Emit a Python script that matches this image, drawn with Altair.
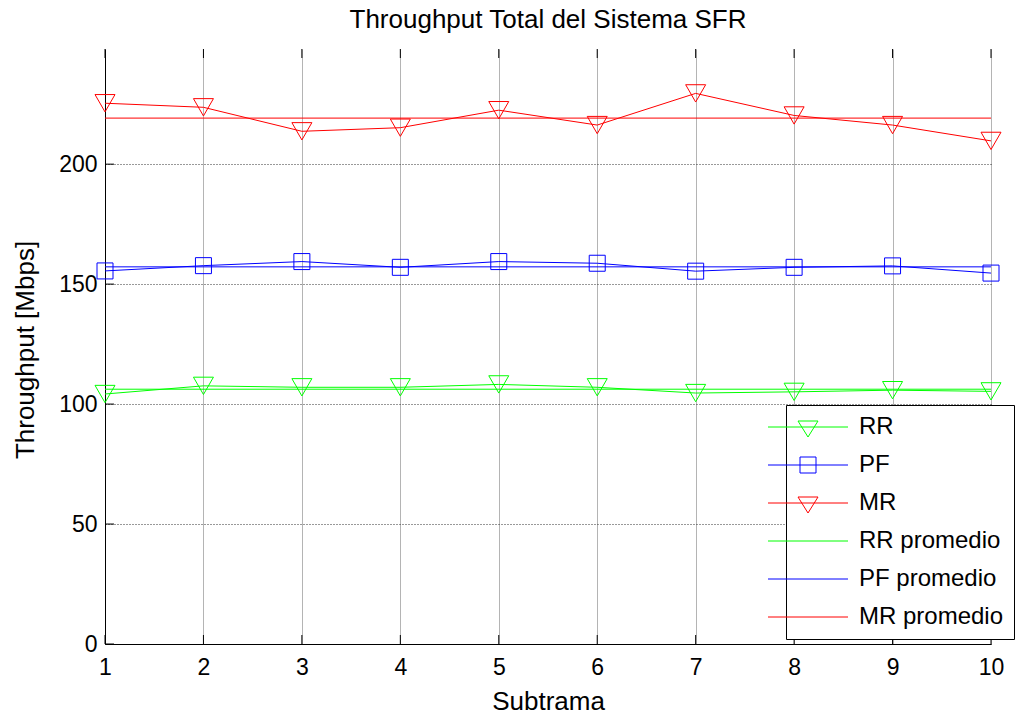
import altair as alt
import pandas as pd

# ---- data ----
SUBTRAMA = [1, 2, 3, 4, 5, 6, 7, 8, 9, 10]
RR = [104.2, 107.6, 107.0, 107.0, 108.2, 107.0, 104.6, 105.1, 105.8, 105.3]
PF = [155.5, 157.7, 159.4, 157.0, 159.4, 158.7, 155.4, 157.0, 157.6, 154.6]
MR = [225.4, 223.7, 213.7, 215.2, 222.5, 216.3, 229.5, 220.3, 216.3, 209.7]
MEANS = {"RR promedio": 106.2, "PF promedio": 157.2, "MR promedio": 219.2}
Y_TICKS = [0, 50, 100, 150, 200]

LABELS = ["RR", "PF", "MR", "RR promedio", "PF promedio", "MR promedio"]
COLORS = ["#00ff00", "#0000ff", "#ff0000", "#00ff00", "#0000ff", "#ff0000"]
LEGEND_PATHS = [
    "M-4,0H4M-1,-0.6H1L0,1Z",
    "M-4,0H4M-0.8,-0.8H0.8V0.8H-0.8Z",
    "M-4,0H4M-1,-0.6H1L0,1Z",
    "M-4,0H4",
    "M-4,0H4",
    "M-4,0H4",
]

FONT = "Liberation Sans"
PW, H = 886, 595      # plot area
VW = 924              # view width (room for the legend that juts out on the right)

rows = []
for name, vals in [("RR", RR), ("PF", PF), ("MR", MR)]:
    for x, y in zip(SUBTRAMA, vals):
        rows.append({"x": x, "y": y, "series": name})
series_df = pd.DataFrame(rows)

mean_rows = []
for name, v in MEANS.items():
    mean_rows.append({"x": SUBTRAMA[0], "y": v, "series": name})
    mean_rows.append({"x": SUBTRAMA[-1], "y": v, "series": name})
mean_df = pd.DataFrame(mean_rows)

legend_df = pd.DataFrame({"series": LABELS})
xt_df = pd.DataFrame({"x": SUBTRAMA})
yt_df = pd.DataFrame({"y": Y_TICKS})

color_scale = alt.Scale(domain=LABELS, range=COLORS)

x_enc = alt.X(
    "x:Q",
    scale=alt.Scale(domain=[1, 10], nice=False, zero=False, range=[0, PW]),
    axis=alt.Axis(
        values=SUBTRAMA, format="d", title="Subtrama", grid=True,
        gridColor="#b4b4b4", gridWidth=1, ticks=False, domainColor="black",
        labelFontSize=23, labelFont=FONT, labelColor="black", labelPadding=12,
        labelFlush=False,
        titleFontSize=26, titleFont=FONT, titleFontWeight="normal",
        titleColor="black", titleX=PW / 2, titleY=57, titleBaseline="middle",
    ),
)
y_enc = alt.Y(
    "y:Q",
    scale=alt.Scale(domain=[0, 248], nice=False),
    axis=alt.Axis(
        values=Y_TICKS, title="Throughput [Mbps]", grid=True,
        gridColor="#333333", gridDash=[1, 2], gridWidth=1, ticks=False,
        domainColor="black",
        labelFontSize=23, labelFont=FONT, labelColor="black", labelPadding=8,
        titleFontSize=26, titleFont=FONT, titleFontWeight="normal",
        titleColor="black", titleX=-80, titleY=H / 2 + 3, titleBaseline="middle",
    ),
)

legend_spec = alt.Legend(
    title=None, orient="none", legendX=681, legendY=356,
    symbolSize=400, symbolStrokeWidth=1, symbolFillColor="transparent",
    labelFontSize=24, labelFont=FONT, labelColor="black", labelOffset=39,
    strokeColor="black", fillColor="white", padding=10, rowPadding=14,
)

lines = alt.Chart(series_df).mark_line(strokeWidth=1).encode(
    x=x_enc, y=y_enc,
    color=alt.Color("series:N", scale=color_scale, legend=legend_spec),
)
means = alt.Chart(mean_df).mark_line(strokeWidth=1).encode(
    x="x:Q", y="y:Q",
    color=alt.Color("series:N", scale=color_scale, legend=legend_spec),
)
tri = alt.Chart(series_df).transform_filter(
    alt.FieldOneOfPredicate(field="series", oneOf=["RR", "MR"])
).mark_point(shape="triangle-down", size=400, filled=False, strokeWidth=1, opacity=1).encode(
    x="x:Q", y="y:Q",
    color=alt.Color("series:N", scale=color_scale, legend=legend_spec),
)
sq = alt.Chart(series_df).transform_filter(
    alt.FieldEqualPredicate(field="series", equal="PF")
).mark_point(shape="square", size=256, filled=False, strokeWidth=1, opacity=1).encode(
    x="x:Q", y="y:Q",
    color=alt.Color("series:N", scale=color_scale, legend=legend_spec),
)
leg = alt.Chart(legend_df).mark_point(clip=True, filled=False, opacity=1).encode(
    x=alt.value(-500), y=alt.value(-500),
    color=alt.Color("series:N", scale=color_scale, legend=legend_spec),
    shape=alt.Shape("series:N", scale=alt.Scale(domain=LABELS, range=LEGEND_PATHS),
                    legend=legend_spec),
)

TL = 9
top_ticks = alt.Chart(xt_df).mark_rule(color="black", strokeWidth=1).encode(
    x="x:Q", y=alt.value(0), y2=alt.value(TL))
bot_ticks = alt.Chart(xt_df).mark_rule(color="black", strokeWidth=1).encode(
    x="x:Q", y=alt.value(H), y2=alt.value(H - TL))
left_ticks = alt.Chart(yt_df).mark_rule(color="black", strokeWidth=1).encode(
    y="y:Q", x=alt.value(0), x2=alt.value(TL))

chart = alt.layer(
    top_ticks, bot_ticks, left_ticks, means, lines, tri, sq, leg
).properties(
    width=VW, height=H,
    autosize="none",
    padding={"left": 105, "top": 49, "right": 0, "bottom": 75},
    title=alt.Title("Throughput Total del Sistema SFR", fontSize=26, font=FONT,
                    fontWeight="normal", color="black", anchor="middle", offset=16,
                    dx=-(VW - PW) / 2),
    background="white",
).configure_view(stroke=None).configure_axis(domainWidth=1)

chart.save("out.html", embed_options={"renderer": "svg", "actions": False})
